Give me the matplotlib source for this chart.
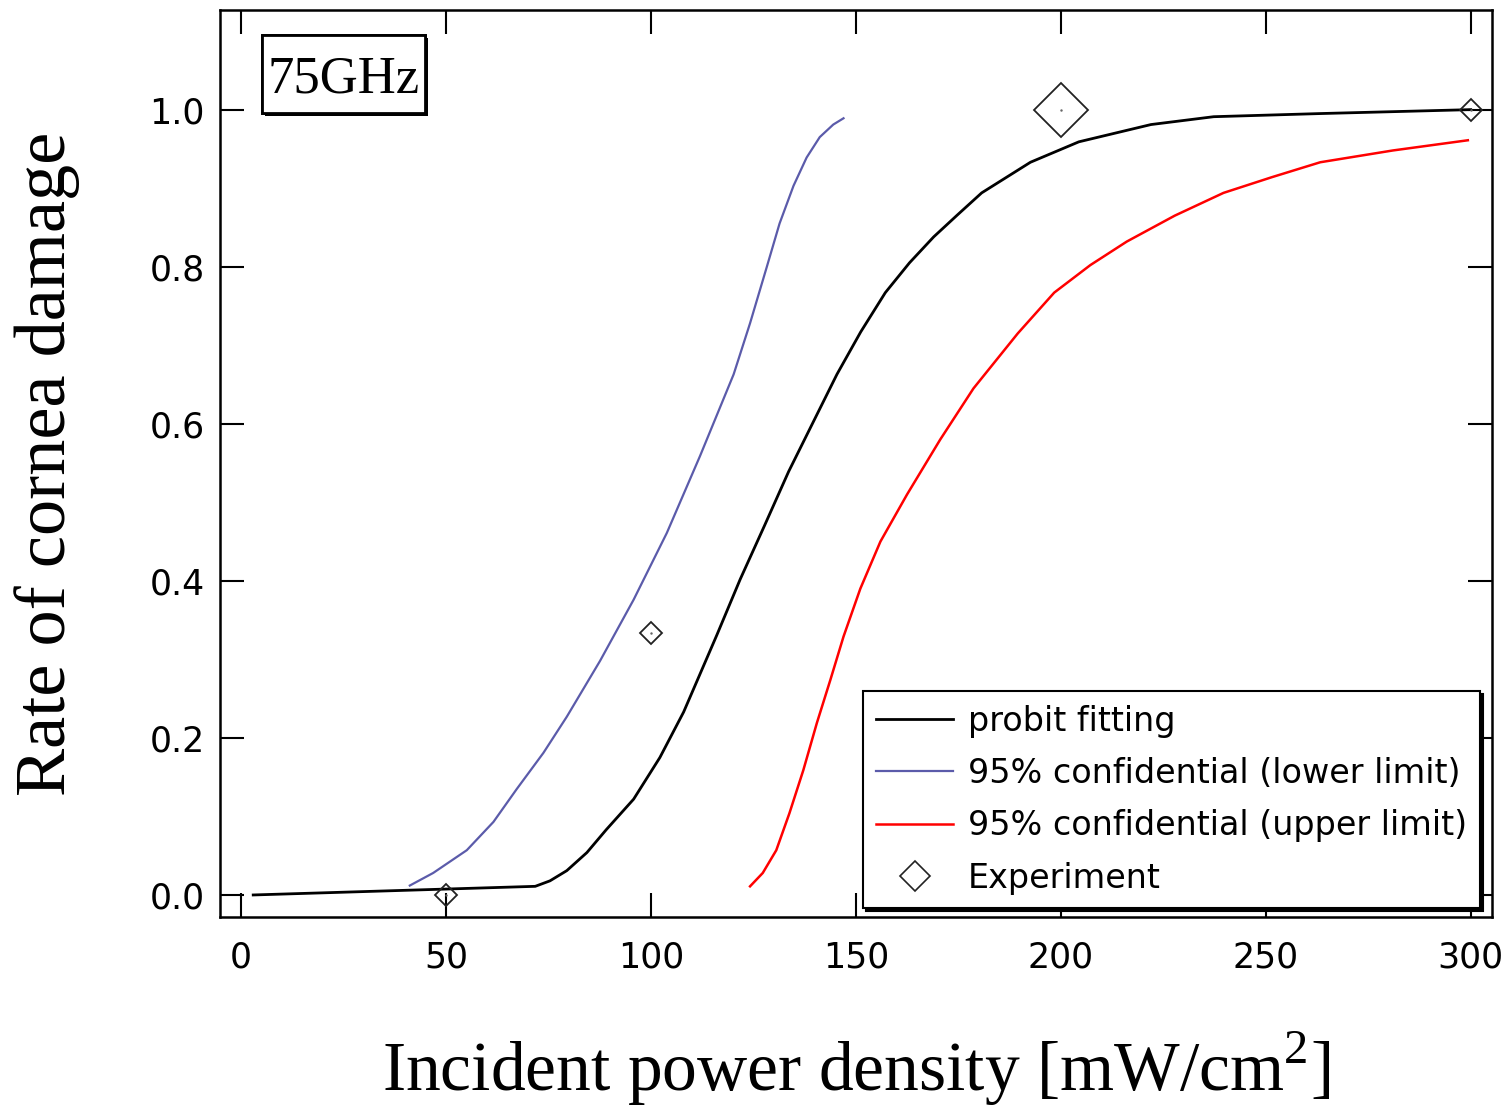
import numpy as np
import matplotlib
matplotlib.use("Agg")
import matplotlib.pyplot as plt
from matplotlib.lines import Line2D
from matplotlib.patches import Rectangle
import matplotlib.patheffects as pe

plt.rcParams['font.family'] = ['DejaVu Sans']
plt.rcParams['mathtext.fontset'] = 'custom'
plt.rcParams['mathtext.rm'] = 'Liberation Serif'

# probit fitting (black)
fit_x = [3, 71.8, 75.4, 79.5, 84.4, 89.1, 95.8, 102.2, 108, 116.1, 121.8, 127.7, 133.6, 139.4,
         145.4, 151.2, 157.2, 163.1, 169, 174.8, 180.7, 192.6, 204.4, 222, 237.3, 263.3, 300]
fit_y = [0.0, 0.011, 0.018, 0.031, 0.054, 0.083, 0.122, 0.175, 0.233, 0.331, 0.402, 0.470, 0.539, 0.600,
         0.663, 0.717, 0.767, 0.805, 0.838, 0.866, 0.894, 0.933, 0.959, 0.981, 0.991, 0.995, 1.0]

# 95% confidential, lower limit (blue)
low_x = [41.2, 46.9, 55.1, 61.6, 67.3, 73.8, 79.5, 87.6, 95.8, 103.9, 112, 120.2, 124.2, 128.3,
         131.4, 134.8, 138, 141.2, 144.5, 147]
low_y = [0.012, 0.028, 0.057, 0.093, 0.135, 0.181, 0.227, 0.298, 0.376, 0.461, 0.559, 0.663, 0.728, 0.80,
         0.855, 0.903, 0.939, 0.965, 0.981, 0.989]

# 95% confidential, upper limit (red)
up_x = [124.2, 127.3, 130.6, 133.8, 137.2, 140.5, 143.8, 147.0, 151.1, 156.0, 162.5, 170.6, 178.7,
        189.5, 198.4, 207.2, 216.1, 227.8, 239.7, 251.5, 263.3, 281, 299.3]
up_y = [0.011, 0.028, 0.057, 0.104, 0.159, 0.219, 0.274, 0.329, 0.390, 0.450, 0.510, 0.580, 0.645,
        0.715, 0.767, 0.802, 0.832, 0.865, 0.894, 0.914, 0.933, 0.948, 0.961]

# experiment
exp_x = [50, 100, 200, 300]
exp_y = [0.0, 0.333, 1.0, 1.0]
exp_ms = [11, 11.5, 28, 11]   # marker size for each point

fig = plt.figure(figsize=(15.1, 11.12), dpi=100)
ax = fig.add_axes([0.1457, 0.1754, 0.8424, 0.8157])

ax.plot(fit_x, fit_y, color='black', lw=2.0, label='probit fitting')
ax.plot(low_x, low_y, color='#5b5baa', lw=1.6, label='95% confidential (lower limit)')
ax.plot(up_x, up_y, color='#ff0000', lw=1.8, label='95% confidential (upper limit)')
for xi, yi, ms in zip(exp_x, exp_y, exp_ms):
    ax.plot(xi, yi, marker='D', ms=ms, mfc='none', mec='#222222', mew=1.3, ls='none')
    ax.plot(xi, yi, marker='.', ms=1.5, color='0.4', ls='none')

ax.set_xlim(-5.1, 305.2)
ax.set_ylim(-0.028, 1.127)
ax.set_xticks([0, 50, 100, 150, 200, 250, 300])
ax.set_yticks([0.0, 0.2, 0.4, 0.6, 0.8, 1.0])
ax.set_yticklabels(['0.0', '0.2', '0.4', '0.6', '0.8', '1.0'])
ax.tick_params(direction='in', length=17, width=1.5, top=True, right=True, labelsize=25)
ax.tick_params(axis='x', pad=17)
ax.tick_params(axis='y', pad=11)
for s in ax.spines.values():
    s.set_linewidth(1.8)

ax.set_ylabel('Rate of cornea damage', fontsize=52, family='Liberation Serif')
ax.yaxis.set_label_coords(-0.11, 0.5)
ax.set_xlabel(r'Incident power density [mW/cm$^{\mathrm{2}}$]', fontsize=50, family='Liberation Serif')
ax.xaxis.label.set_va('baseline')
ax.xaxis.set_label_coords(0.5, -0.192)

# 75GHz box with shadow
box = Rectangle((0.033, 0.8864), 0.128, 0.086, transform=ax.transAxes, fc='white', ec='black', lw=2, zorder=5)
box.set_path_effects([pe.withSimplePatchShadow(offset=(2.5, -2.5), shadow_rgbFace='black', alpha=1), pe.Normal()])
ax.add_patch(box)
ax.text(0.0971, 0.9085, '75GHz', fontsize=38, family='Liberation Serif', ha='center', va='baseline',
        transform=ax.transAxes, zorder=6)

handles, labels = ax.get_legend_handles_labels()
handles.append(Line2D([], [], marker='D', ms=15, mfc='none', mec='#222222', mew=1.2, ls='none'))
labels.append('Experiment')
leg = ax.legend(handles, labels, loc='lower left', bbox_to_anchor=(0.5055, 0.0099), borderaxespad=0,
                fontsize=24, handlelength=2.3, handletextpad=0.45, borderpad=0.4, labelspacing=0.58,
                fancybox=False, framealpha=1, edgecolor='black', shadow={'color': 'black', 'alpha': 1})
leg.get_frame().set_linewidth(1.5)

fig.savefig('out.png', dpi=100)
